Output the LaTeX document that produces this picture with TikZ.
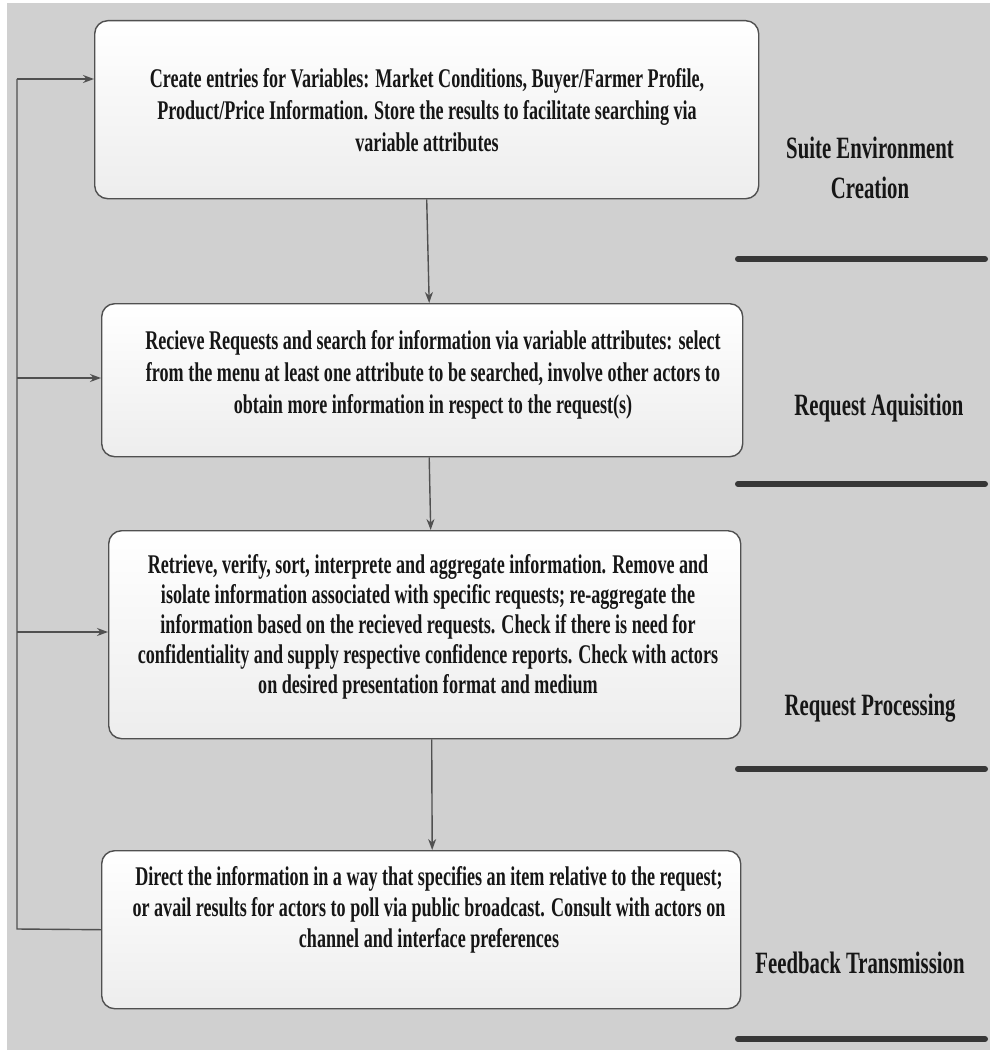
\documentclass[tikz,border=0pt]{standalone}
\usepackage{fontspec}
\setmainfont{Liberation Serif}[
  UprightFont={Liberation Serif},
  BoldFont={Liberation Serif Bold},
  FakeStretch=0.67]
\usetikzlibrary{arrows.meta}
\definecolor{panel}{RGB}{208,208,208}
\definecolor{ink}{RGB}{22,22,22}
\definecolor{edge}{RGB}{80,80,80}
\definecolor{bar}{RGB}{55,55,55}

\begin{document}
\begin{tikzpicture}[x=1pt,y=-1pt,
  stagebox/.style={draw=edge, line width=1.4pt, rounded corners=13pt,
    top color=white, bottom color=gray!14, anchor=north west, inner sep=0pt},
  boxtext/.style={font=\fontsize{27}{32}\selectfont\bfseries, text=ink,
    align=center, inner sep=0pt},
  phase/.style={font=\fontsize{31}{40}\selectfont\bfseries, text=ink,
    align=center, inner sep=0pt},
  divider/.style={line width=6pt, draw=bar, line cap=round},
  wire/.style={draw=edge, line width=1.4pt},
  link/.style={wire, -{Stealth[length=11pt,width=8pt]}}
]
\useasboundingbox (0,0) rectangle (995,1054);
\fill[white] (0,0) rectangle (995,1054);
\fill[panel] (7,3) rectangle (990,1050);

% process stages
\node[stagebox, minimum width=664pt, minimum height=178pt] (b1) at (94,20) {};
\node[stagebox, minimum width=641pt, minimum height=153pt] (b2) at (101,303) {};
\node[stagebox, minimum width=632pt, minimum height=208pt] (b3) at (108,530) {};
\node[stagebox, minimum width=639pt, minimum height=158pt] (b4) at (101,850) {};

\node[boxtext] (t1) at (427,110) {Create entries for Variables: Market Conditions, Buyer/Farmer Profile,\\
  Product/Price Information. Store the results to facilitate searching via\\
  variable attributes};
\node[boxtext] (t2) at (433,375) {Recieve Requests and search for information via variable attributes: select\\
  from the menu at least one attribute to be searched, involve other actors to\\
  obtain more information in respect to the request(s)};
\node[boxtext, font=\fontsize{27}{30}\selectfont\bfseries] (t3) at (428,627) {Retrieve, verify, sort, interprete and aggregate information. Remove and\\
  isolate information associated with specific requests; re-aggregate the\\
  information based on the recieved requests. Check if there is need for\\
  confidentiality and supply respective confidence reports. Check with actors\\
  on desired presentation format and medium};
\node[boxtext, font=\fontsize{27}{31}\selectfont\bfseries] (t4) at (429,910) {Direct the information in a way that specifies an item relative to the request;\\
  or avail results for actors to poll via public broadcast. Consult with actors on\\
  channel and interface preferences};

% forward flow
\draw[link] (b1.south) -- ([xshift=7pt]b2.north);
\draw[link] ([xshift=7pt]b2.south) -- ([xshift=6pt]b3.north);
\draw[link] ([xshift=7pt]b3.south) -- ([xshift=11pt]b4.north);

% feedback loop
\coordinate (foot) at (17,929);
\coordinate (tap1) at (17,79);
\coordinate (tap2) at (17,378);
\coordinate (tap3) at (17,632);
\draw[wire] (b4.west) -- (foot) -- (tap1);
\draw[link] (tap1) -- (tap1 -| b1.west);
\draw[link] (tap2) -- (tap2 -| b2.west);
\draw[link] (tap3) -- (tap3 -| b3.west);

% phase labels
\node[phase] (p1) at (870,168) {Suite Environment\\Creation};
\node[phase] (p2) at (879,408) {Request Aquisition};
\node[phase] (p3) at (870,708) {Request Processing};
\node[phase] (p4) at (860,963) {Feedback Transmission};

\draw[divider] (738,259) -- (985,259);
\draw[divider] (738,484) -- (985,484);
\draw[divider] (738,769) -- (985,769);
\draw[divider] (738,1039) -- (985,1039);
\end{tikzpicture}
\end{document}
